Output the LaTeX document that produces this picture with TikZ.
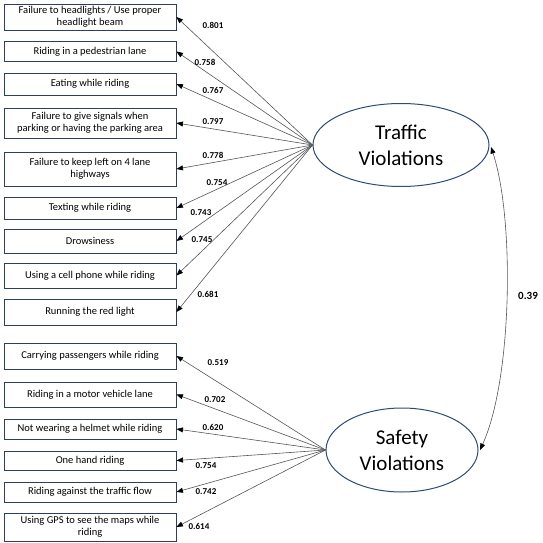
\documentclass[tikz,border=0pt]{standalone}
\usepackage{fontspec}
\setmainfont{Carlito}
\usetikzlibrary{arrows.meta,shapes.geometric}
\definecolor{boxblue}{HTML}{2E3F5C}
\definecolor{ellblue}{HTML}{2F4A7A}
\definecolor{linegray}{HTML}{555555}
\begin{document}
\begin{tikzpicture}[x=1pt,y=-1pt,
  box/.style={draw=boxblue, line width=0.9pt, minimum width=172pt, align=center, inner sep=1pt, font=\fontsize{10.5}{12.5}\selectfont},
  latent/.style={ellipse, draw=ellblue, line width=1pt, inner sep=0pt, align=center, font=\fontsize{21}{26}\selectfont},
  load/.style={draw=linegray, line width=0.6pt, -{Triangle[length=6.5pt,width=5pt,color=black]}},
  coef/.style={font=\bfseries\fontsize{9}{10}\selectfont, inner sep=0pt}]
\useasboundingbox (0,0) rectangle (543,543);
% observed variables
\node[box, minimum height=26pt] (b1) at (90,17) {Failure to headlights / Use proper\\headlight beam};
\node[box, minimum height=20pt] (b2) at (90,51.5) {Riding in a pedestrian lane};
\node[box, minimum height=22pt] (b3) at (90,84) {Eating while riding};
\node[box, minimum height=30pt] (b4) at (90,123) {Failure to give signals when\\parking or having the parking area};
\node[box, minimum height=34pt] (b5) at (90,169) {Failure to keep left on 4 lane\\highways};
\node[box, minimum height=22pt] (b6) at (90,208) {Texting while riding};
\node[box, minimum height=24pt] (b7) at (90,241) {Drowsiness};
\node[box, minimum height=25pt] (b8) at (90,275.5) {Using a cell phone while riding};
\node[box, minimum height=26pt] (b9) at (90,312) {Running the red light};
\node[box, minimum height=26pt] (b10) at (90,356) {Carrying passengers while riding};
\node[box, minimum height=25pt] (b11) at (90,394.5) {Riding in a motor vehicle lane};
\node[box, minimum height=20pt] (b12) at (90,429) {Not wearing a helmet while riding};
\node[box, minimum height=19pt] (b13) at (90,460.5) {One hand riding};
\node[box, minimum height=20pt] (b14) at (90,492) {Riding against the traffic flow};
\node[box, minimum height=28pt] (b15) at (90,527) {Using GPS to see the maps while\\riding};
% latent variables
\node[latent, minimum width=176pt, minimum height=83pt] (tv) at (401,145) {Traffic\\Violations};
\node[latent, minimum width=152pt, minimum height=84pt] (sv) at (402,450) {Safety\\Violations};
% loadings
\foreach \i in {1,...,9} { \draw[load] (tv.west) -- (b\i.east); }
\foreach \i in {10,...,15} { \draw[load] (sv.west) -- (b\i.east); }
% coefficients
\node[coef] (c1) at (213,25) {0.801};
\node[coef] (c2) at (205,62) {0.758};
\node[coef] (c3) at (213,90) {0.767};
\node[coef] (c4) at (213,122) {0.797};
\node[coef] (c5) at (213,155) {0.778};
\node[coef] (c6) at (217,183) {0.754};
\node[coef] (c7) at (201,213) {0.743};
\node[coef] (c8) at (202,240) {0.745};
\node[coef] (c9) at (208,294) {0.681};
\node[coef] (c10) at (218,363) {0.519};
\node[coef] (c11) at (215,400) {0.702};
\node[coef] (c12) at (213,427) {0.620};
\node[coef] (c13) at (206,466) {0.754};
\node[coef] (c14) at (206,492) {0.742};
\node[coef] (c15) at (199,526) {0.614};
% covariance
\coordinate (ct) at (491,147);
\coordinate (cs) at (480,450);
\draw[draw=linegray, line width=0.6pt, {Triangle[length=6.5pt,width=5pt,color=black]}-{Triangle[length=6.5pt,width=5pt,color=black]}] (ct) .. controls (515,220) and (512,380) .. (cs);
\node[font=\bfseries\fontsize{11}{13}\selectfont, inner sep=0pt] (cov) at (528,296) {0.39};
\end{tikzpicture}
\end{document}
